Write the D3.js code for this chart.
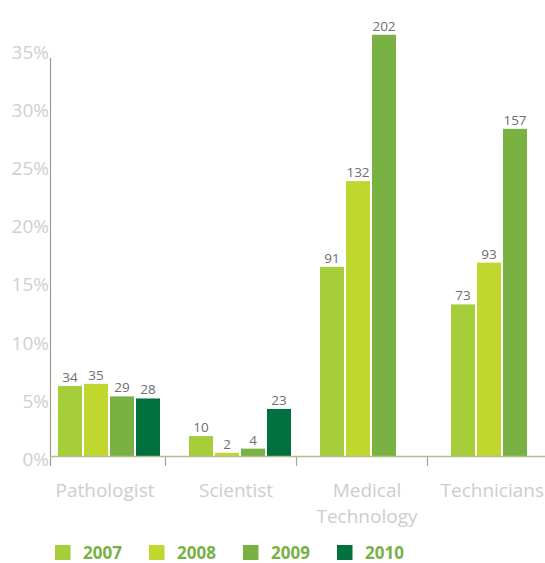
<!DOCTYPE html>
<html>
<head>
<meta charset="utf-8">
<script src="https://cdn.jsdelivr.net/npm/d3@7"></script>
<style>
  html, body { margin: 0; padding: 0; background: #fff; }
  svg { display: block; }
</style>
</head>
<body>
<svg id="chart" width="545" height="563"></svg>
<script>
// Survey responses per staff category and year; bar height is the share of all respondents
const categories = ["Pathologist", "Scientist", "Medical Technology", "Technicians"];
const categoryLines = [["Pathologist"], ["Scientist"], ["Medical", "Technology"], ["Technicians"]];
const years = ["2007", "2008", "2009", "2010"];
const counts2007 = [34, 10, 91, 73];
const counts2008 = [35, 2, 132, 93];
const counts2009 = [29, 4, 202, 157];
const counts2010 = [28, 23, null, null];
const totalRespondents = 557;
const yTicks = [0, 5, 10, 15, 20, 25, 30, 35];
const yearColors = ["#a6cd3a", "#c0d72f", "#79b143", "#00703f"];

const seriesByYear = [counts2007, counts2008, counts2009, counts2010];
const rows = categories.map((c, i) => ({
  category: c,
  values: years.map((yr, j) => ({ year: yr, count: seriesByYear[j][i] }))
}));

const svg = d3.select("#chart");
const W = 545;

const x0 = d3.scaleBand()
  .domain(categories)
  .range([50, 561])
  .paddingInner(29 / 131)
  .paddingOuter(8 / 131);

const x1 = d3.scaleBand()
  .domain(years)
  .range([0, x0.bandwidth()])
  .paddingInner(2 / 26);

const y = d3.scaleLinear().domain([0, 35]).range([457, 49.5]);
const pct = c => c / totalRespondents * 100;
const color = d3.scaleOrdinal().domain(years).range(yearColors);

// y tick labels
svg.append("g")
  .selectAll("text")
  .data(yTicks)
  .join("text")
  .attr("x", 49)
  .attr("y", d => y(d) + 2)
  .attr("text-anchor", "end")
  .attr("dominant-baseline", "central")
  .attr("font-family", "'Open Sans', sans-serif")
  .attr("font-size", 19)
  .attr("fill", "#cfcfcf")
  .text(d => d + "%");

// bars
const groups = svg.append("g")
  .selectAll("g")
  .data(rows)
  .join("g")
  .attr("transform", d => `translate(${x0(d.category)},0)`);

const present = d => d.values.filter(v => v.count != null);

groups.selectAll("rect")
  .data(present)
  .join("rect")
  .attr("x", d => x1(d.year))
  .attr("width", x1.bandwidth())
  .attr("y", d => y(pct(d.count)))
  .attr("height", d => y(0) - y(pct(d.count)))
  .attr("fill", d => color(d.year));

groups.selectAll("text")
  .data(present)
  .join("text")
  .attr("x", d => x1(d.year) + x1.bandwidth() / 2)
  .attr("y", d => y(pct(d.count)) - 4)
  .attr("text-anchor", "middle")
  .attr("font-family", "'Open Sans', sans-serif")
  .attr("font-size", 13.5)
  .attr("fill", "#6d6e71")
  .text(d => d.count);

// axes lines
const axisColor = "#a5a78c";
svg.append("line")
  .attr("x1", 50.5).attr("x2", 50.5)
  .attr("y1", 58).attr("y2", 466)
  .attr("stroke", "#9d9d8c").attr("stroke-width", 1.2);

svg.append("line")
  .attr("x1", 50).attr("x2", W)
  .attr("y1", y(0) - 0.5).attr("y2", y(0) - 0.5)
  .attr("stroke", "#b7bb8e").attr("stroke-width", 1.5);

svg.append("g")
  .selectAll("line")
  .data(categories.slice(1))
  .join("line")
  .attr("x1", d => x0(d) - 24 + 0.5)
  .attr("x2", d => x0(d) - 24 + 0.5)
  .attr("y1", y(0))
  .attr("y2", 466)
  .attr("stroke", axisColor).attr("stroke-width", 1.2);

// category labels
const catLabels = svg.append("g")
  .selectAll("text")
  .data(categories)
  .join("text")
  .attr("text-anchor", "middle")
  .attr("font-family", "'Open Sans', sans-serif")
  .attr("font-size", 19)
  .attr("fill", "#cdcdcd")
  .attr("x", d => x0(d) + x0.bandwidth() / 2 - 4)
  .attr("y", 497);

catLabels.each(function (d, i) {
  const t = d3.select(this);
  categoryLines[i].forEach((line, k) => {
    t.append("tspan")
      .attr("x", t.attr("x"))
      .attr("dy", k === 0 ? 0 : 26)
      .text(line);
  });
  // keep the last label inside the frame
  const bb = this.getBBox();
  if (bb.x + bb.width > W - 1) {
    const shift = bb.x + bb.width - (W - 1);
    const nx = +t.attr("x") - shift;
    t.attr("x", nx);
    t.selectAll("tspan").attr("x", nx);
  }
});

// legend
const legendX = d3.scaleBand().domain(years).range([55, 431]);
const legend = svg.append("g")
  .selectAll("g")
  .data(years)
  .join("g")
  .attr("transform", d => `translate(${legendX(d)},545)`);

legend.append("rect")
  .attr("width", 15.5).attr("height", 15)
  .attr("fill", d => color(d));

legend.append("text")
  .attr("x", 28)
  .attr("y", 7)
  .attr("dominant-baseline", "central")
  .attr("font-family", "'Open Sans', sans-serif")
  .attr("font-weight", "bold")
  .attr("font-size", 17)
  .attr("fill", "#78b145")
  .text(d => d);
</script>
</body>
</html>
